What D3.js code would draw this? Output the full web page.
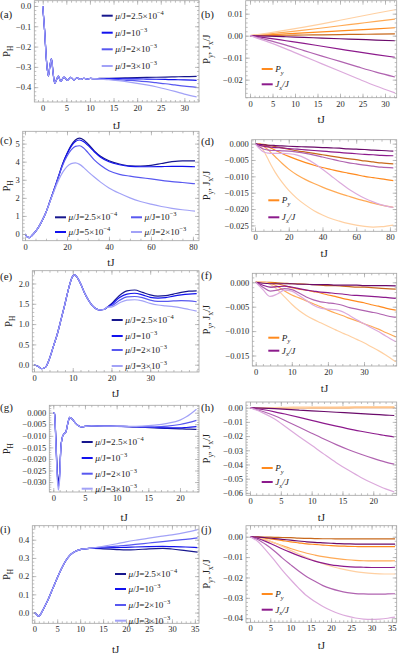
<!DOCTYPE html>
<html>
<head>
<meta charset="utf-8">
<script src="https://cdnjs.cloudflare.com/ajax/libs/d3/7.8.5/d3.min.js"></script>
<style>
html, body { margin: 0; padding: 0; background: #fff; }
svg { display: block; font-family: "Liberation Serif", "DejaVu Serif", serif; }
</style>
</head>
<body>
<div id="chart"></div>
<script>
// ------------------------------------------------------------
// Data (time tJ, then one array per curve)
// ------------------------------------------------------------

// (a) P_H, four mu values
const tA = [0, 0.4, 0.8, 1.2, 1.5, 1.85, 2.2, 2.55, 2.9, 3.3, 3.8, 4.5, 5.2, 5.9, 6.6, 7.3, 8.0, 8.7, 9.4, 10.1, 11,
            12, 14, 16, 18, 20, 22, 24, 26, 28, 30, 32.6];
const aEarly = [0, -0.12, -0.27, -0.345, -0.30, -0.26, -0.33, -0.38, -0.365, -0.345, -0.372, -0.35, -0.366, -0.352,
                -0.364, -0.354, -0.362, -0.356, -0.36, -0.357, -0.358];
const aMu1 = aEarly.concat([-0.357, -0.356, -0.355, -0.354, -0.353, -0.352, -0.351, -0.35, -0.349, -0.348, -0.347]);
const aMu2 = aEarly.concat([-0.358, -0.358, -0.358, -0.359, -0.359, -0.36, -0.361, -0.362, -0.363, -0.364, -0.366]);
const aMu3 = aEarly.concat([-0.359, -0.361, -0.363, -0.366, -0.369, -0.373, -0.378, -0.383, -0.389, -0.395, -0.401]);
const aMu4 = aEarly.concat([-0.36, -0.363, -0.368, -0.374, -0.381, -0.389, -0.398, -0.409, -0.421, -0.434, -0.448]);

// (b) P_y and J_x/J
const tB = [0, 4, 8, 12, 16, 20, 24, 28, 32.2];
const bPy1 = [0, 0.0001, 0.0002, 0.0003, 0.0004, 0.0005, 0.0006, 0.0007, 0.0008];
const bPy2 = [0, 0.0004, 0.0008, 0.0013, 0.0017, 0.0022, 0.0026, 0.0031, 0.0036];
const bPy3 = [0, 0.0008, 0.0016, 0.0025, 0.0035, 0.0045, 0.0055, 0.0065, 0.0075];
const bPy4 = [0, 0.0012, 0.0025, 0.0039, 0.0054, 0.007, 0.0086, 0.0102, 0.0118];
const bJx1 = [0, -0.0002, -0.0005, -0.0008, -0.0011, -0.0014, -0.0017, -0.002, -0.0023];
const bJx2 = [0, -0.0011, -0.0023, -0.0035, -0.0048, -0.0061, -0.0074, -0.0086, -0.0098];
const bJx3 = [0, -0.002, -0.0043, -0.0068, -0.0093, -0.0117, -0.0142, -0.0166, -0.0188];
const bJx4 = [0, -0.0028, -0.006, -0.0094, -0.0128, -0.0162, -0.0196, -0.0229, -0.026];

// (c) P_H
const tC = [0, 1, 2, 3, 4, 6, 8, 10, 12, 14, 16, 18, 20, 22, 24, 26, 28, 30, 33, 36, 40, 45, 50, 55, 60, 65, 70, 75, 81];
const cMu1 = [0, -0.15, -0.2, -0.12, 0, 0.3, 0.7, 1.2, 1.85, 2.5, 3.2, 3.9, 4.45, 4.9, 5.2, 5.3, 5.2, 4.98, 4.6, 4.3,
              4.05, 3.87, 3.77, 3.76, 3.8, 3.9, 4.0, 4.05, 4.04];
const cMu2 = [0, -0.15, -0.2, -0.12, 0, 0.3, 0.7, 1.2, 1.85, 2.5, 3.2, 3.88, 4.42, 4.85, 5.12, 5.2, 5.1, 4.9, 4.55, 4.25,
              4.0, 3.83, 3.74, 3.72, 3.72, 3.73, 3.74, 3.74, 3.72];
const cMu3 = [0, -0.15, -0.2, -0.12, 0, 0.3, 0.7, 1.2, 1.85, 2.5, 3.18, 3.82, 4.3, 4.65, 4.85, 4.88, 4.75, 4.5, 4.1, 3.8,
              3.5, 3.3, 3.2, 3.12, 3.05, 2.97, 2.9, 2.85, 2.78];
const cMu4 = [0, -0.15, -0.2, -0.12, 0, 0.3, 0.7, 1.2, 1.82, 2.42, 2.98, 3.42, 3.73, 3.89, 3.93, 3.85, 3.67, 3.45, 3.15, 2.87,
              2.55, 2.25, 2.0, 1.8, 1.65, 1.52, 1.42, 1.34, 1.27];

// (d) P_y and J_x/J
const tD = [0, 2, 4, 6, 8, 10, 12, 16, 20, 25, 30, 35, 40, 45, 50, 55, 60, 65, 70, 75, 82];
const dPy1 = [0, -0.0001, -0.0002, -0.0003, -0.0005, -0.0007, -0.0009, -0.0013, -0.0017, -0.0022, -0.0026, -0.003, -0.0034,
              -0.0038, -0.0042, -0.0046, -0.0049, -0.0053, -0.0056, -0.0059, -0.0062];
const dPy2 = [0, -0.0001, -0.0003, -0.0006, -0.001, -0.0015, -0.002, -0.003, -0.0039, -0.0049, -0.0058, -0.0066, -0.0073,
              -0.0079, -0.0085, -0.009, -0.0095, -0.01, -0.0104, -0.0108, -0.0113];
const dPy3 = [0, -0.0001, -0.0005, -0.0012, -0.002, -0.003, -0.004, -0.006, -0.0078, -0.0096, -0.011, -0.0122, -0.0133,
              -0.0143, -0.0152, -0.016, -0.0168, -0.0175, -0.0182, -0.0188, -0.0195];
const dPy4 = [0, -0.0002, -0.0012, -0.003, -0.005, -0.007, -0.0088, -0.0118, -0.0143, -0.0168, -0.0188, -0.0205, -0.0218,
              -0.0229, -0.0237, -0.0244, -0.0249, -0.0253, -0.0255, -0.0254, -0.0249];
const dJx1 = [0, -0.0002, -0.0003, -0.0004, -0.0005, -0.0005, -0.0006, -0.0007, -0.0008, -0.0009, -0.001, -0.0011, -0.0012,
              -0.0013, -0.0014, -0.0016, -0.0017, -0.0018, -0.002, -0.0021, -0.0023];
const dJx2 = [0, -0.0004, -0.0007, -0.0009, -0.001, -0.0011, -0.0012, -0.0013, -0.0015, -0.0017, -0.0019, -0.0021, -0.0023,
              -0.0025, -0.0027, -0.0029, -0.0031, -0.0033, -0.0034, -0.0036, -0.0037];
const dJx3 = [0, -0.0008, -0.0014, -0.0018, -0.002, -0.0021, -0.0021, -0.0022, -0.0023, -0.0026, -0.003, -0.0035, -0.0041,
              -0.0047, -0.0053, -0.0058, -0.0062, -0.0066, -0.0069, -0.0072, -0.0074];
const dJx4 = [0, -0.0012, -0.0022, -0.0027, -0.0029, -0.003, -0.003, -0.003, -0.0031, -0.0035, -0.0045, -0.006, -0.0078,
              -0.0098, -0.0118, -0.0137, -0.0153, -0.0167, -0.0178, -0.0187, -0.0195];

// (e) P_H
const tE = [0, 1, 2, 3, 4, 5, 6, 7, 8, 9, 10, 10.5, 11, 12, 13, 14, 15, 16, 17, 18, 19,
            20, 22, 24, 26, 28, 30, 32, 34, 36, 38, 40, 42];
const eEarly = [0, -0.04, -0.1, -0.06, 0.15, 0.45, 0.75, 1.12, 1.5, 1.9, 2.18, 2.21, 2.17, 2.0, 1.78, 1.6, 1.46, 1.38,
                1.35, 1.36, 1.42];
const eMu1 = eEarly.concat([1.5, 1.7, 1.82, 1.84, 1.78, 1.72, 1.69, 1.7, 1.74, 1.78, 1.81, 1.82]);
const eMu2 = eEarly.concat([1.48, 1.65, 1.74, 1.76, 1.72, 1.66, 1.64, 1.65, 1.69, 1.72, 1.74, 1.75]);
const eMu3 = eEarly.concat([1.45, 1.58, 1.67, 1.68, 1.65, 1.59, 1.56, 1.56, 1.57, 1.58, 1.57, 1.55]);
const eMu4 = eEarly.concat([1.42, 1.52, 1.59, 1.6, 1.57, 1.51, 1.47, 1.45, 1.43, 1.4, 1.36, 1.32]);

// (f) P_y and J_x/J
const tF = [0, 2, 4, 6, 8, 10, 12, 14, 16, 18, 20, 22, 24, 26, 28, 30, 32, 34, 36, 38.8];
const fPy1 = [0, 0, 0, -0.0001, -0.0002, -0.0003, -0.0003, -0.0004, -0.0005, -0.0006, -0.0007, -0.0007, -0.0008, -0.0009,
              -0.001, -0.001, -0.0011, -0.0012, -0.0013, -0.0014];
const fPy2 = [0, 0, -0.0001, -0.0003, -0.0007, -0.0011, -0.0014, -0.0016, -0.0019, -0.0022, -0.0026, -0.0029, -0.0033,
              -0.0036, -0.0039, -0.0042, -0.0046, -0.0049, -0.0053, -0.0057];
const fPy3 = [0, 0, -0.0002, -0.0008, -0.0018, -0.0026, -0.0032, -0.0038, -0.0044, -0.005, -0.0057, -0.0063, -0.0068,
              -0.0074, -0.0079, -0.0085, -0.009, -0.0096, -0.0103, -0.0112];
const fPy4 = [0, 0.0001, -0.0004, -0.0015, -0.003, -0.0045, -0.0058, -0.0068, -0.0076, -0.0083, -0.009, -0.0097, -0.0104,
              -0.011, -0.0117, -0.0124, -0.0132, -0.014, -0.0149, -0.0163];
const fJx1 = [0, -0.0002, -0.0003, -0.0003, -0.0003, -0.0003, -0.0004, -0.0004, -0.0005, -0.0005, -0.0005, -0.0006, -0.0006,
              -0.0006, -0.0006, -0.0007, -0.0007, -0.0007, -0.0007, -0.00075];
const fJx2 = [0, -0.0006, -0.001, -0.0009, -0.0008, -0.001, -0.0013, -0.0016, -0.0018, -0.002, -0.0021, -0.0023, -0.0024,
              -0.0026, -0.0027, -0.0028, -0.0029, -0.003, -0.0031, -0.0033];
const fJx3 = [0, -0.001, -0.0018, -0.0016, -0.0013, -0.0015, -0.0022, -0.003, -0.0036, -0.004, -0.0042, -0.0044, -0.0047,
              -0.0052, -0.0055, -0.0058, -0.0061, -0.0064, -0.0068, -0.0072];
const fJx4 = [0, -0.0015, -0.0029, -0.0024, -0.0016, -0.0018, -0.0027, -0.0037, -0.0047, -0.0053, -0.0055, -0.0056, -0.006,
              -0.0068, -0.0077, -0.0085, -0.0093, -0.0101, -0.011, -0.0122];

// (g) P_H
const tG = [0, 0.2, 0.4, 0.6, 0.8, 1.0, 1.2, 1.4, 1.6, 1.8, 2.0, 2.3, 2.6, 3.0, 3.5, 4.0, 4.5, 5, 6, 8, 10,
            12, 14, 16, 18, 20, 21, 22.6];
const gMu1 = [0, -0.0005, -0.011, -0.024, -0.0295, -0.026, -0.015, -0.011, -0.0095, -0.0088, -0.0082, -0.0045, -0.002,
              -0.0028, -0.0045, -0.0057, -0.0061, -0.0059, -0.0057, -0.0058, -0.0059,
              -0.006, -0.0063, -0.0066, -0.0068, -0.007, -0.0071, -0.0072];
const gMu2 = [0, -0.0005, -0.0115, -0.025, -0.031, -0.027, -0.015, -0.011, -0.0095, -0.0088, -0.0082, -0.0045, -0.002,
              -0.0028, -0.0045, -0.0057, -0.0061, -0.0059, -0.0057, -0.0058, -0.0059,
              -0.006, -0.0062, -0.0064, -0.0066, -0.0066, -0.0064, -0.006];
const gMu3 = [0, -0.0005, -0.012, -0.026, -0.032, -0.028, -0.015, -0.011, -0.0095, -0.0088, -0.0082, -0.0045, -0.002,
              -0.0028, -0.0045, -0.0057, -0.0061, -0.0059, -0.0057, -0.0058, -0.0059,
              -0.006, -0.0061, -0.0061, -0.0058, -0.0051, -0.0045, -0.0033];
const gMu4 = [0, -0.0005, -0.0125, -0.027, -0.0335, -0.029, -0.0155, -0.011, -0.0095, -0.0088, -0.0082, -0.0045, -0.002,
              -0.0028, -0.0045, -0.0057, -0.0061, -0.0059, -0.0057, -0.0058, -0.0058,
              -0.0059, -0.0058, -0.0054, -0.0046, -0.0032, -0.0018, 0.0015];

// (h) P_y and J_x/J
const tH = [0, 2, 4, 6, 8, 10, 12, 14, 16, 18, 20, 22, 23.4];
const hPy1 = [0, 0, 0, 0, 0, 0, 0, 0, 0.0001, 0.0001, 0.0001, 0.0001, 0.0001];
const hPy2 = [0, 0, 0.0001, 0.0001, 0.0001, 0.0001, 0.0001, 0.0001, 0.0001, 0.0002, 0.0002, 0.0002, 0.0002];
const hPy3 = [0, 0.0001, 0.0001, 0.0001, 0.0002, 0.0002, 0.0002, 0.0002, 0.0003, 0.0003, 0.0003, 0.0003, 0.0003];
const hPy4 = [0, 0.0001, 0.0001, 0.0002, 0.0002, 0.0003, 0.0003, 0.0003, 0.0004, 0.0004, 0.0004, 0.0004, 0.0004];
const hJx1 = [0, -0.0003, -0.0007, -0.0012, -0.0017, -0.0022, -0.0027, -0.0032, -0.0037, -0.0042, -0.0047, -0.0052, -0.0055];
const hJx2 = [0, -0.0013, -0.0029, -0.0048, -0.0068, -0.0089, -0.011, -0.013, -0.0149, -0.0166, -0.0182, -0.0197, -0.0206];
const hJx3 = [0, -0.0025, -0.0057, -0.0097, -0.0138, -0.018, -0.0221, -0.026, -0.0296, -0.0328, -0.0357, -0.0383, -0.0398];
const hJx4 = [0, -0.0035, -0.008, -0.0142, -0.0204, -0.0265, -0.0327, -0.0387, -0.0441, -0.0491, -0.0534, -0.0572, -0.0593];

// (i) P_H
const tI = [0, 0.5, 0.9, 1.3, 2, 3, 4, 5, 6, 7, 8, 9, 10, 11, 12,
            13, 15, 18, 20, 22, 25, 28, 30, 33, 35.6];
const iEarly = [0, -0.01, -0.02, -0.012, 0.02, 0.07, 0.13, 0.19, 0.245, 0.29, 0.32, 0.337, 0.346, 0.35, 0.352];
const iMu1 = iEarly.concat([0.352, 0.35, 0.346, 0.344, 0.345, 0.35, 0.352, 0.349, 0.34, 0.332]);
const iMu2 = iEarly.concat([0.353, 0.355, 0.357, 0.358, 0.36, 0.362, 0.363, 0.362, 0.36, 0.357]);
const iMu3 = iEarly.concat([0.355, 0.359, 0.365, 0.369, 0.374, 0.382, 0.39, 0.395, 0.402, 0.41]);
const iMu4 = iEarly.concat([0.356, 0.364, 0.378, 0.388, 0.397, 0.409, 0.42, 0.427, 0.44, 0.455]);

// (j) P_y and J_x/J
const tJ = [0, 2, 4, 6, 8, 10, 12, 14, 16, 18, 20, 22, 24, 26, 28, 30, 32, 34, 35.8];
const jPy1 = [0, -0.0001, -0.0002, -0.0003, -0.0004, -0.0005, -0.0007, -0.0008, -0.0009, -0.001, -0.001, -0.0011, -0.0011,
              -0.0011, -0.0011, -0.0011, -0.0011, -0.0011, -0.0011];
const jPy2 = [0, -0.0003, -0.0008, -0.0013, -0.0019, -0.0025, -0.003, -0.0035, -0.0038, -0.0041, -0.0044, -0.0046, -0.0047,
              -0.0048, -0.0049, -0.0049, -0.0049, -0.0049, -0.0049];
const jPy3 = [0, -0.0006, -0.0017, -0.003, -0.0044, -0.0058, -0.007, -0.0081, -0.009, -0.0098, -0.0104, -0.0109, -0.0113,
              -0.0116, -0.0118, -0.0119, -0.0119, -0.0119, -0.0118];
const jPy4 = [0, -0.0005, -0.0015, -0.003, -0.0048, -0.0067, -0.0085, -0.0102, -0.0118, -0.0132, -0.0145, -0.0155, -0.0164,
              -0.0171, -0.0176, -0.018, -0.0182, -0.0183, -0.0183];
const jJx1 = [0, -0.0002, -0.0005, -0.0009, -0.0013, -0.0017, -0.0021, -0.0025, -0.0028, -0.003, -0.0032, -0.0034, -0.0035,
              -0.0036, -0.0036, -0.0036, -0.0036, -0.0036, -0.0036];
const jJx2 = [0, -0.0009, -0.0024, -0.0042, -0.006, -0.0077, -0.0093, -0.0107, -0.012, -0.013, -0.0138, -0.0143, -0.0147,
              -0.0149, -0.015, -0.0151, -0.0151, -0.0151, -0.015];
const jJx3 = [0, -0.0015, -0.004, -0.007, -0.0105, -0.0137, -0.0168, -0.0196, -0.0219, -0.024, -0.0255, -0.0266, -0.0274,
              -0.0279, -0.0281, -0.0282, -0.0282, -0.0281, -0.028];
const jJx4 = [0, -0.0025, -0.0068, -0.0115, -0.0165, -0.021, -0.0252, -0.029, -0.0318, -0.0342, -0.0362, -0.0378, -0.039,
              -0.0399, -0.0404, -0.0406, -0.0404, -0.04, -0.0395];

// tick labels
const ticks5to30 = [0, 5, 10, 15, 20, 25, 30];
const ticks0to80 = [0, 20, 40, 60, 80];
const ticks0to30 = [0, 10, 20, 30];
const ticks5to20 = [0, 5, 10, 15, 20];
const ticks5to35 = [0, 5, 10, 15, 20, 25, 30, 35];
const aYTicks = [-0.4, -0.3, -0.2, -0.1, 0];
const bYTicks = [-0.02, -0.01, 0, 0.01];
const cYTicks = [0, 1, 2, 3, 4, 5];
const dYTicks = [-0.025, -0.02, -0.015, -0.01, -0.005, 0];
const eYTicks = [0, 0.5, 1, 1.5, 2];
const fYTicks = [-0.015, -0.01, -0.005, 0];
const gYTicks = [-0.03, -0.025, -0.02, -0.015, -0.01, -0.005, 0];
const hYTicks = [-0.06, -0.05, -0.04, -0.03, -0.02, -0.01, 0];
const iYTicks = [0, 0.1, 0.2, 0.3, 0.4];
const jYTicks = [-0.04, -0.03, -0.02, -0.01, 0];

// legend labels (mantissa, exponent)
const muLegend = [['2.5×10', '−4'], ['10', '−3'], ['2×10', '−3'], ['3×10', '−3']];
const muLegendC = [['2.5×10', '−4'], ['5×10', '−4'], ['10', '−3'], ['2×10', '−3']];

// colours, darkest = smallest mu
const BLUES = ['#17178e', '#1212ee', '#5858f0', '#a2a2f7'];
const ORANGES = ['#c8691c', '#ff8a1e', '#ffaa55', '#ffd0a2'];
const PURPLES = ['#6a0a6a', '#8c1a8c', '#b063b0', '#dcaadc'];

// ------------------------------------------------------------
const FONT = '"Liberation Serif", "DejaVu Serif", serif';
const svg = d3.select('#chart').append('svg').attr('width', 399).attr('height', 657);

function rich(sel, parts, size) {
    let shift = 0;
    parts.forEach(pt => {
        const want = pt.sub ? size * 0.3 : (pt.sup ? -size * 0.42 : 0);
        const ts = sel.append('tspan').text(pt.s);
        if (want !== shift) { ts.attr('dy', want - shift); shift = want; }
        if (pt.sub || pt.sup) ts.attr('font-size', size * 0.7);
        if (pt.it) ts.attr('font-style', 'italic');
    });
}

const PH = [{ s: 'P' }, { s: 'H', sub: 1 }];
const PYJX = [{ s: 'P' }, { s: 'y', sub: 1 }, { s: ', J' }, { s: 'x', sub: 1 }, { s: '/J' }];
const muParts = m => [{ s: 'μ', it: 1 }, { s: '/J=' + m[0] }, { s: m[1], sup: 1 }];
const pyParts = [{ s: 'P', it: 1 }, { s: 'y', sub: 1, it: 1 }];
const jxParts = [{ s: 'J', it: 1 }, { s: 'x', sub: 1, it: 1 }, { s: '/J', it: 1 }];

function muSeries(t, arrs) {
    return arrs.map((v, i) => ({ t, v, color: BLUES[i] }));
}
function pjSeries(t, py, jx) {
    return py.map((v, i) => ({ t, v, color: ORANGES[i] }))
        .concat(jx.map((v, i) => ({ t, v, color: PURPLES[i] })));
}
function pjLegend(x, ys) {
    return [{ x, y: ys[0], color: ORANGES[1], parts: pyParts },
            { x, y: ys[1], color: PURPLES[1], parts: jxParts }];
}
function muLegendAt(x, ys, labels, first) {
    return labels.map((m, i) => ({ x, y: ys[i], color: BLUES[i + (first || 0)], parts: muParts(m) }));
}

function drawPanel(p) {
    const [x0, y0, x1, y1] = p.box;
    const x = d3.scaleLinear().domain(p.xDom).range([x0, x1]);
    const y = d3.scaleLinear().domain(p.yDom).range([y1, y0]);
    const g = svg.append('g');

    g.append('clipPath').attr('id', 'clip-' + p.id)
        .append('rect').attr('x', x0).attr('y', y0).attr('width', x1 - x0).attr('height', y1 - y0);

    // Curves
    const line = d3.line().curve(d3.curveMonotoneX);
    g.append('g').attr('clip-path', `url(#clip-${p.id})`)
        .selectAll('path').data(p.series).join('path')
        .attr('fill', 'none')
        .attr('stroke', s => s.color)
        .attr('stroke-width', 1.2)
        .attr('d', s => line(s.v.map((v, i) => [x(s.t[i]), y(v)])));

    // Frame with inward ticks on all sides
    const minor = (dom, step) => d3.range(Math.ceil(dom[0] / step - 1e-9) * step, dom[1], step);
    const xMinor = minor(p.xDom, p.xStep);
    const yMinor = minor(p.yDom, p.yStep);
    const none = () => '';
    function ax(axis, tx, ty, vals, size, fmt) {
        const a = g.append('g').attr('transform', `translate(${tx},${ty})`)
            .call(axis.tickValues(vals).tickSize(-size).tickSizeOuter(0).tickPadding(3).tickFormat(fmt || none));
        a.select('.domain').remove();
        a.attr('font-family', FONT).attr('font-size', 8.5).attr('color', '#a3a3a3');
        a.selectAll('line').attr('stroke-width', 0.7);
        a.selectAll('text').attr('fill', '#2b2b2b');
        return a;
    }
    ax(d3.axisBottom(x), 0, y1, xMinor, 2);
    ax(d3.axisBottom(x), 0, y1, p.xTicks, 4, d3.format('d'));
    ax(d3.axisTop(x), 0, y0, xMinor, 2);
    ax(d3.axisTop(x), 0, y0, p.xTicks, 4);
    ax(d3.axisLeft(y), x0, 0, yMinor, 2);
    ax(d3.axisLeft(y), x0, 0, p.yTicks, 4, d3.format(p.yFmt));
    ax(d3.axisRight(y), x1, 0, yMinor, 2);
    ax(d3.axisRight(y), x1, 0, p.yTicks, 4);

    g.append('rect').attr('x', x0).attr('y', y0).attr('width', x1 - x0).attr('height', y1 - y0)
        .attr('fill', 'none').attr('stroke', '#a3a3a3').attr('stroke-width', 0.8);

    // Labels
    g.append('text').attr('x', p.tag[0]).attr('y', p.tag[1]).attr('font-size', 11).attr('fill', '#222').text(p.tagText);
    g.append('text').attr('x', (x0 + x1) / 2).attr('y', p.xLabY).attr('text-anchor', 'middle')
        .attr('font-size', 11).attr('fill', '#222').text('tJ');
    const yl = g.append('text')
        .attr('transform', `translate(${p.yLabX},${(y0 + y1) / 2}) rotate(-90)`)
        .attr('text-anchor', 'middle').attr('font-size', 10.5).attr('fill', '#222');
    rich(yl, p.yLabel, 10.5);

    // Legend
    p.legend.forEach(e => {
        g.append('line').attr('x1', e.x).attr('x2', e.x + 11).attr('y1', e.y).attr('y2', e.y)
            .attr('stroke', e.color).attr('stroke-width', 2);
        const t = g.append('text').attr('x', e.x + 13.5).attr('y', e.y + 3).attr('font-size', 9.2).attr('fill', '#222');
        rich(t, e.parts, 9.2);
    });
}

const PANELS = [
    { id: 'a', tagText: '(a)', tag: [0, 18], box: [34.3, 0.7, 199, 102], xDom: [-1.78, 33.1], yDom: [-0.473, 0.026],
      xTicks: ticks5to30, yTicks: aYTicks, yFmt: '.1f', xStep: 1, yStep: 0.02, xLabY: 128.5, yLabX: 10, yLabel: PH,
      series: muSeries(tA, [aMu1, aMu2, aMu3, aMu4]), legend: muLegendAt(101.7, [15.7, 32.7, 49.3, 66], muLegend) },
    { id: 'b', tagText: '(b)', tag: [201, 18], box: [245.7, 0.7, 396.7, 97.7], xDom: [-0.96, 32.6], yDom: [-0.0282, 0.0159],
      xTicks: ticks5to30, yTicks: bYTicks, yFmt: '.2f', xStep: 1, yStep: 0.002, xLabY: 122.5, yLabX: 210, yLabel: PYJX,
      series: pjSeries(tB, [bPy1, bPy2, bPy3, bPy4], [bJx1, bJx2, bJx3, bJx4]), legend: pjLegend(261.7, [69, 84.3]) },
    { id: 'c', tagText: '(c)', tag: [0, 144], box: [22.7, 131.3, 199, 240.7], xDom: [-1.1, 82.9], yDom: [-0.37, 5.68],
      xTicks: ticks0to80, yTicks: cYTicks, yFmt: 'd', xStep: 5, yStep: 0.2, xLabY: 265.5, yLabX: 10, yLabel: PH,
      series: muSeries(tC, [cMu1, cMu2, cMu3, cMu4]),
      legend: muLegendAt(55, [217.3, 232], muLegendC.slice(0, 2), 0)
          .concat(muLegendAt(131, [217.3, 232], muLegendC.slice(2), 2)) },
    { id: 'd', tagText: '(d)', tag: [201, 145], box: [251.7, 139.7, 396.7, 231.3], xDom: [-1.96, 84], yDom: [-0.0268, 0.0012],
      xTicks: ticks0to80, yTicks: dYTicks, yFmt: '.3f', xStep: 5, yStep: 0.001, xLabY: 256.5, yLabX: 210, yLabel: PYJX,
      series: pjSeries(tD, [dPy1, dPy2, dPy3, dPy4], [dJx1, dJx2, dJx3, dJx4]), legend: pjLegend(268.3, [200.3, 217.3]) },
    { id: 'e', tagText: '(e)', tag: [0, 280], box: [32.3, 270.7, 199, 372], xDom: [-0.44, 42.6], yDom: [-0.18, 2.315],
      xTicks: ticks0to30, yTicks: eYTicks, yFmt: '.1f', xStep: 2, yStep: 0.1, xLabY: 397, yLabX: 12, yLabel: PH,
      series: muSeries(tE, [eMu1, eMu2, eMu3, eMu4]), legend: muLegendAt(111.7, [320, 336, 350, 366], muLegend) },
    { id: 'f', tagText: '(f)', tag: [201, 279], box: [252.3, 273.3, 396.7, 366], xDom: [-0.94, 39.05], yDom: [-0.01715, 0.00184],
      xTicks: ticks0to30, yTicks: fYTicks, yFmt: '.3f', xStep: 2, yStep: 0.001, xLabY: 392, yLabX: 210, yLabel: PYJX,
      series: pjSeries(tF, [fPy1, fPy2, fPy3, fPy4], [fJx1, fJx2, fJx3, fJx4]), legend: pjLegend(268.3, [337.7, 350.7]) },
    { id: 'g', tagText: '(g)', tag: [0, 411], box: [49.3, 405.3, 199, 492], xDom: [-0.63, 23.0], yDom: [-0.0343, 0.0032],
      xTicks: ticks5to20, yTicks: gYTicks, yFmt: '.3f', xStep: 1, yStep: 0.001, xLabY: 520.5, yLabX: 10, yLabel: PH,
      series: muSeries(tG, [gMu1, gMu2, gMu3, gMu4]), legend: muLegendAt(81.7, [442, 458, 473.7, 488.7], muLegend) },
    { id: 'h', tagText: '(h)', tag: [201, 411], box: [246, 402, 396.7, 495.3], xDom: [-0.65, 23.8], yDom: [-0.0617, 0.004],
      xTicks: ticks5to20, yTicks: hYTicks, yFmt: '.2f', xStep: 1, yStep: 0.002, xLabY: 520.5, yLabX: 210, yLabel: PYJX,
      series: pjSeries(tH, [hPy1, hPy2, hPy3, hPy4], [hJx1, hJx2, hJx3, hJx4]), legend: pjLegend(261.7, [468, 482]) },
    { id: 'i', tagText: '(i)', tag: [0, 533], box: [32.3, 525.7, 199, 623.3], xDom: [-0.43, 35.9], yDom: [-0.059, 0.477],
      xTicks: ticks5to35, yTicks: iYTicks, yFmt: '.1f', xStep: 1, yStep: 0.02, xLabY: 652.5, yLabX: 10, yLabel: PH,
      series: muSeries(tI, [iMu1, iMu2, iMu3, iMu4]), legend: muLegendAt(115, [574, 589, 605, 620.7], muLegend) },
    { id: 'j', tagText: '(j)', tag: [201, 533], box: [246, 525.7, 396.7, 622.3], xDom: [-0.99, 36.2], yDom: [-0.042, 0.0054],
      xTicks: ticks5to35, yTicks: jYTicks, yFmt: '.2f', xStep: 1, yStep: 0.002, xLabY: 649, yLabX: 210, yLabel: PYJX,
      series: pjSeries(tJ, [jPy1, jPy2, jPy3, jPy4], [jJx1, jJx2, jJx3, jJx4]), legend: pjLegend(261.7, [594, 609.7]) }
];

PANELS.forEach(drawPanel);
</script>
</body>
</html>
